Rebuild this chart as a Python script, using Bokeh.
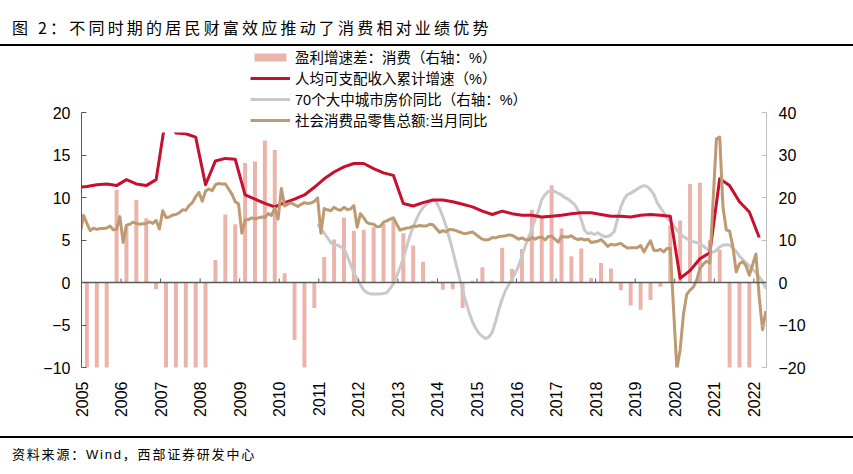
import math
from bokeh.plotting import figure
from bokeh.models import (Range1d, LinearAxis, FixedTicker, Legend, LegendItem,
                          BoxAnnotation, Span, Div)
from bokeh.layouts import column
from bokeh.embed import file_html
from bokeh.resources import INLINE

# ---------------- data ----------------
# 盈利增速差：消费（右轴，%），quarterly 2005Q1 .. 2021Q4
profit_gap = [
    -25, -25, -25, 21.8,
    13.0, 19.4, 15.1, -1.6,
    -25, -25, -25, -25,
    -25, 5.3, 16.0, 13.7,
    28.1, 28.5, 33.4, 31.2,
    2.2, -13.5, -20.5, -6.0,
    6.0, 10.1, 15.3, 12.2,
    12.4, 13.0, 13.8, 14.7,
    11.6, 8.7, 4.9, 0.4,
    -1.7, -1.6, -6.0, 0.4,
    3.6, 0.4, 8.2, 3.2,
    7.9, 17.1, 15.5, 22.9,
    12.7, 6.2, 8.0, 1.1,
    4.6, 3.3, -1.8, -5.4,
    -6.4, -4.1, -1.0, 13.5,
    14.6, 23.2, 23.5, 10.0,
    7.7, -25, -25, -25,
]
profit_gap_start = (2005, 1)

# 人均可支配收入累计增速（%），quarterly 2004Q4 .. 2022Q1
income_growth = [
    11.2,
    11.3, 11.5, 11.6, 11.4,
    12.1, 11.6, 11.4, 12.1,
    19.6, 17.6, 17.5, 17.1,
    11.5, 14.3, 14.6, 14.5,
    10.3, 9.8, 9.3, 8.9,
    9.4, 9.8, 10.3, 11.2,
    12.2, 13.0, 13.6, 14.0,
    14.0, 13.4, 12.9, 12.6,
    9.3, 9.0, 9.4, 9.7,
    9.7, 9.5, 9.2, 8.9,
    8.4, 8.0, 8.4, 8.1,
    7.9, 7.9, 7.7, 7.8,
    7.9, 8.1, 8.2, 8.2,
    8.0, 7.8, 7.8, 7.7,
    7.9, 8.0, 7.9, 7.8,
    0.5, 1.4, 2.8, 3.5,
    12.2, 11.4, 9.5, 8.3,
    5.3,
]
income_start = (2004, 4)

# 70个大中城市房价同比（右轴，%），monthly 2011-01 .. 2022-05
house_yoy = [
    13.7, 12.7, 11.6, 10.5, 9.4, 8.8, 8.8, 8.4, 8.0, 6.2, 4.3, 2.3,
    0.8, -0.5, -1.8, -2.4, -2.7, -2.7, -2.7, -2.7, -2.6, -2.4, -1.4, -0.3,
    1.5, 3.5, 5.7, 8.4, 11.0, 13.0, 14.9, 16.5, 17.6, 18.4, 19.0, 19.4,
    18.9, 17.4, 15.5, 13.2, 10.4, 7.5, 4.3, 1.2, -1.8, -4.6, -7.1, -9.3,
    -10.8, -12.0, -12.7, -13.2, -12.8, -11.7, -9.2, -6.3, -3.9, -1.9, -0.5, 0.8,
    2.3, 3.9, 6.3, 8.6, 10.6, 12.6, 14.9, 16.8, 19.5, 20.7, 21.4, 21.6,
    21.4, 21.0, 20.6, 20.0, 19.6, 19.0, 18.3, 17.0, 14.8, 12.3, 11.5, 11.7,
    11.3, 11.7, 11.2, 10.8, 10.8, 11.2, 12.0, 15.0, 17.8, 19.6, 20.7, 21.0,
    21.5, 22.0, 22.5, 22.8, 22.6, 21.8, 20.8, 18.8, 17.6, 16.5, 15.2, 14.4,
    13.4, 12.3, 11.5, 10.8, 10.3, 9.9, 9.6, 9.4, 9.1, 8.6, 8.0, 7.5,
    7.1, 7.6, 8.4, 8.8, 8.9, 8.8, 8.1, 7.3, 6.2, 5.4, 4.6, 3.9,
    3.1, 2.3, 1.3, 0.2, -1.4,
]
house_start = (2011, 1)

# 社会消费品零售总额:当月同比（drawn against the right axis），monthly 2005-01 .. 2022-05
retail_yoy = [
    11.8, 15.8, 13.9, 12.2, 12.8, 12.5, 12.7, 12.7, 12.8, 13.3, 12.4, 12.5,
    15.5, 9.4, 13.5, 13.7, 14.2, 13.9, 13.7, 13.8, 13.9, 14.3, 13.9, 14.6,
    12.6, 16.9, 15.3, 15.4, 15.9, 16.0, 16.4, 17.1, 17.0, 18.1, 18.8, 20.2,
    21.2, 19.1, 21.5, 22.0, 21.6, 23.0, 23.3, 23.2, 23.2, 22.0, 20.8, 19.0,
    18.5, 11.6, 14.7, 14.8, 15.2, 15.0, 15.2, 15.4, 15.3, 16.2, 15.8, 17.5,
    14.9, 22.1, 18.0, 18.5, 18.7, 18.3, 17.9, 18.4, 18.8, 18.6, 18.7, 19.1,
    19.9, 11.6, 17.4, 17.1, 16.9, 17.7, 17.2, 17.0, 17.7, 17.2, 17.3, 18.1,
    13.0, 16.2, 15.2, 14.1, 13.8, 13.7, 13.1, 13.2, 14.2, 14.5, 14.9, 15.2,
    None, 12.3, 12.6, 12.8, 12.9, 13.3, 13.2, 13.4, 13.3, 13.3, 13.7, 13.6,
    None, 11.8, 12.2, 11.9, 12.5, 12.4, 12.2, 11.9, 11.6, 11.5, 11.7, 11.9,
    None, 10.7, 10.2, 10.0, 10.1, 10.6, 10.5, 10.8, 10.9, 11.0, 11.2, 11.1,
    None, 10.2, 10.5, 10.1, 10.0, 10.6, 10.2, 10.6, 10.7, 10.0, 10.8, 10.9,
    None, 9.5, 10.9, 10.7, 10.7, 11.0, 10.4, 10.1, 10.3, 10.0, 10.2, 9.4,
    None, 9.7, 10.1, 9.4, 8.5, 9.0, 8.8, 9.0, 9.2, 8.6, 8.1, 8.2,
    None, 8.2, 8.7, 7.2, 8.6, 9.8, 7.6, 7.5, 7.8, 7.2, 8.0, 8.0,
    None, -20.5, -15.8, -7.5, -2.8, -1.8, -1.1, 0.5, 3.3, 4.3, 5.0, 4.6,
    None, 33.8, 34.2, 17.7, 12.4, 12.1, 8.5, 2.5, 4.4, 4.9, 3.9, 1.7,
    None, 6.7, -3.5, -11.1, -6.7,
]
retail_start = (2005, 1)

year_ticks = list(range(2005, 2023))
left_ticks = [-10, -5, 0, 5, 10, 15, 20]
right_ticks = [-20, -10, 0, 10, 20, 30, 40]

title_text = "图 2：不同时期的居民财富效应推动了消费相对业绩优势"
source_text = "资料来源：Wind，西部证券研发中心"
label_bar = "盈利增速差：消费（右轴：%）"
label_income = "人均可支配收入累计增速（%）"
label_house = "70个大中城市房价同比（右轴：%）"
label_retail = "社会消费品零售总额:当月同比"

# ---------------- positions ----------------
X_SHIFT = -0.03


def month_x(year, month):
    return year + (month - 1) / 12 + X_SHIFT


def monthly_xy(start, vals):
    y0, m0 = start
    xs, ys = [], []
    for i, v in enumerate(vals):
        k = (m0 - 1) + i
        if v is None:
            continue
        xs.append(month_x(y0 + k // 12, k % 12 + 1))
        ys.append(v)
    return xs, ys


def quarterly_xy(start, vals):
    y0, q0 = start
    xs = []
    for i in range(len(vals)):
        k = (q0 - 1) + i
        xs.append(month_x(y0 + k // 4, 3 * (k % 4 + 1)))
    return xs, list(vals)


bar_x, bar_top = quarterly_xy(profit_gap_start, profit_gap)
inc_x, inc_y = quarterly_xy(income_start, income_growth)
house_x, house_y = monthly_xy(house_start, house_yoy)
retail_x, retail_y = monthly_xy(retail_start, retail_yoy)

# ---------------- layout geometry ----------------
PAGE_W = 853
TITLE_H = 46
SOURCE_H = 38
FIG_H = 474 - TITLE_H - SOURCE_H        # 390
FRAME_TOP = 2                           # frame starts just under the title rule
FRAME_LEFT = 81
FRAME_RIGHT_PAD = 87
FRAME_BOTTOM_PAD = 69
FRAME_H = FIG_H - FRAME_TOP - FRAME_BOTTOM_PAD
PX_PER_LEFT = 8.5                       # 5 units = 42.5 px
left_top = -10 + FRAME_H / PX_PER_LEFT
right_top = -20 + FRAME_H / (PX_PER_LEFT / 2)

p = figure(width=PAGE_W, height=FIG_H, output_backend="svg", toolbar_location=None,
           x_range=Range1d(2005, 2022.32), y_range=Range1d(-10, left_top),
           min_border_left=FRAME_LEFT, min_border_right=FRAME_RIGHT_PAD,
           min_border_top=FRAME_TOP, min_border_bottom=FRAME_BOTTOM_PAD,
           background_fill_color="white", border_fill_color="white")
p.margin = (0, 0, 0, 0)
p.extra_y_ranges = {"right": Range1d(-20, right_top)}
p.xgrid.visible = False
p.ygrid.visible = False
p.outline_line_color = None

NUM_FONT = "Liberation Sans"

# bottom axis: year labels only
xa = p.xaxis[0]
xa.ticker = FixedTicker(ticks=year_ticks)
xa.major_label_overrides = {y: str(y) for y in year_ticks}
xa.major_label_orientation = math.pi / 2
xa.axis_line_color = None
xa.major_tick_line_color = None
xa.minor_tick_line_color = None
xa.major_label_standoff = 8
xa.major_label_text_font = NUM_FONT
xa.major_label_text_font_size = "16px"
xa.major_label_text_color = "#000000"

# left axis
ya = p.yaxis[0]
ya.ticker = FixedTicker(ticks=left_ticks)
ya.bounds = (-10, 20)
ya.axis_line_color = "#595959"
ya.major_tick_line_color = "#595959"
ya.major_tick_in = 5
ya.major_tick_out = 0
ya.minor_tick_line_color = None
ya.major_label_standoff = 11
ya.major_label_text_font = NUM_FONT
ya.major_label_text_font_size = "16px"
ya.major_label_text_color = "#000000"

# right axis
ra = LinearAxis(y_range_name="right", ticker=FixedTicker(ticks=right_ticks))
ra.bounds = (-20, 40)
ra.axis_line_color = "#BFBFBF"
ra.major_tick_line_color = "#BFBFBF"
ra.major_tick_in = 5
ra.major_tick_out = 0
ra.minor_tick_line_color = None
ra.major_label_standoff = 12
ra.major_label_text_font = NUM_FONT
ra.major_label_text_font_size = "16px"
ra.major_label_text_color = "#000000"
p.add_layout(ra, "right")

# glyphs
r_bar = p.vbar(x=bar_x, top=bar_top, bottom=0, width=0.1, y_range_name="right",
               fill_color="#EBB3A9", line_color=None)
r_house = p.line(house_x, house_y, y_range_name="right", line_color="#C9C9C9",
                 line_width=3, line_join="round")
r_inc = p.line(inc_x, inc_y, line_color="#C8102E", line_width=3, line_join="round")
r_retail = p.line(retail_x, retail_y, y_range_name="right", line_color="#BE9A72",
                  line_width=3, line_join="round")

# clip everything below the axis minimum, as in the original
p.add_layout(BoxAnnotation(top=-10, fill_color="white", fill_alpha=1.0, line_color=None))

# zero line with small upward year ticks
p.add_layout(Span(location=0, dimension="width", line_color="#595959", line_width=1.5))
TICK_LEN = 4 / PX_PER_LEFT
p.segment(x0=year_ticks, x1=year_ticks, y0=0, y1=TICK_LEN, line_color="#595959",
          line_width=1)

# white legend backdrop (the original legend hides the top of the 2007 peak)
p.add_layout(BoxAnnotation(left=2007.0, right=2021.0, bottom=17.65,
                           fill_color="white", fill_alpha=1.0, line_color=None))

legend = Legend(items=[
    LegendItem(label=label_bar, renderers=[r_bar]),
    LegendItem(label=label_income, renderers=[r_inc]),
    LegendItem(label=label_house, renderers=[r_house]),
    LegendItem(label=label_retail, renderers=[r_retail]),
], location=(250 - FRAME_LEFT, 237), orientation="vertical")
legend.label_text_font = "Liberation Sans, Noto Sans CJK SC"
legend.label_text_font_size = "14.5px"
legend.label_text_color = "#000000"
legend.glyph_width = 40
legend.glyph_height = 10
legend.label_height = 20
legend.label_standoff = 5
legend.spacing = 0
legend.padding = 0
legend.margin = 0
legend.border_line_color = None
legend.background_fill_alpha = 0
p.add_layout(legend)

# title (with rule) and source (with rule) as HTML blocks
title_div = Div(
    text=('<div style="box-sizing:border-box;width:%dpx;height:%dpx;'
          'padding:17px 0 0 12px;border-bottom:2px solid #000;'
          'font-family:\'Noto Sans CJK SC\';font-size:16px;line-height:20px;'
          'letter-spacing:3.2px;color:#000;white-space:nowrap;">%s</div>')
         % (PAGE_W, TITLE_H, title_text),
    width=PAGE_W, height=TITLE_H, margin=(0, 0, 0, 0))
source_div = Div(
    text=('<div style="box-sizing:border-box;width:%dpx;height:%dpx;'
          'padding:9px 0 0 12px;border-top:2px solid #000;'
          'font-family:\'Liberation Sans\',\'Noto Sans CJK SC\';font-size:13px;'
          'line-height:16px;letter-spacing:1.8px;color:#000;white-space:nowrap;">%s</div>')
         % (PAGE_W, SOURCE_H, source_text),
    width=PAGE_W, height=SOURCE_H, margin=(0, 0, 0, 0))

layout = column(title_div, p, source_div, spacing=0, margin=(0, 0, 0, 0))

open("out.html", "w").write(file_html(layout, INLINE))
